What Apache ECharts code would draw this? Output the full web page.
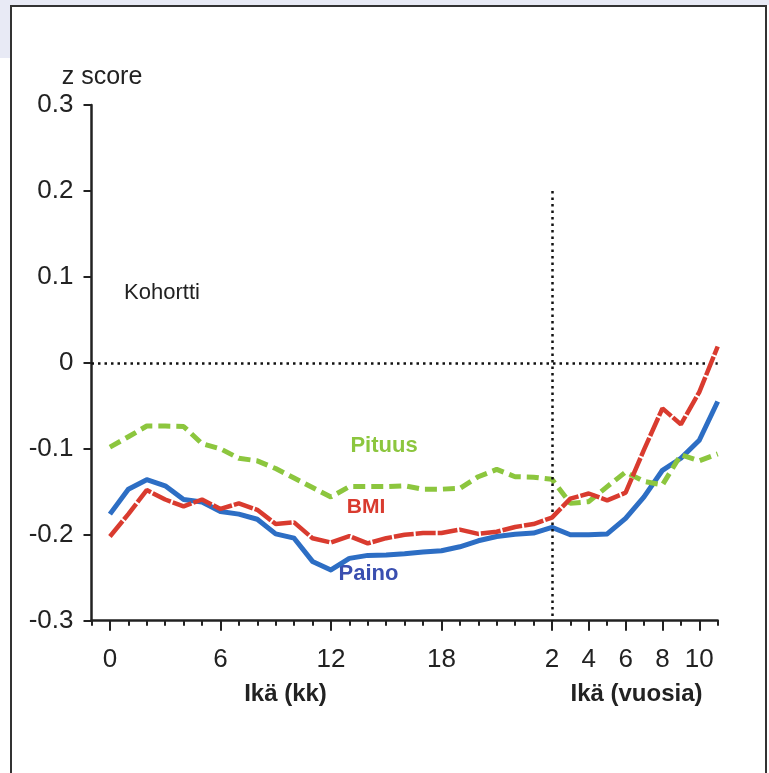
<!DOCTYPE html>
<html>
<head>
<meta charset="utf-8">
<script src="https://cdn.jsdelivr.net/npm/echarts@6/dist/echarts.min.js"></script>
<style>
html,body{margin:0;padding:0;background:#fff;width:769px;height:773px;overflow:hidden;}
#bgTop{position:absolute;left:0;top:0;width:769px;height:5px;background:#e8eaf5;}
#bgLeft{position:absolute;left:0;top:0;width:10px;height:58px;background:#e8eaf5;}
#frame{position:absolute;left:10px;top:5px;width:757px;height:820px;border:2px solid #333;box-sizing:border-box;background:#fff;}
#chart{position:absolute;left:0;top:0;width:769px;height:773px;}
</style>
</head>
<body>
<div id="bgTop"></div>
<div id="bgLeft"></div>
<div id="frame"></div>
<div id="chart"></div>
<script>
// x positions: months 0..24, then years 3..11 (index 25..33)
const ageIndex = [0,1,2,3,4,5,6,7,8,9,10,11,12,13,14,15,16,17,18,19,20,21,22,23,24,25,26,27,28,29,30,31,32,33];
const pituus = [-0.098,-0.086,-0.0735,-0.0735,-0.074,-0.094,-0.100,-0.111,-0.114,-0.123,-0.134,-0.145,-0.156,-0.144,-0.144,-0.144,-0.143,-0.147,-0.147,-0.146,-0.1325,-0.124,-0.1325,-0.133,-0.1355,-0.1635,-0.1615,-0.144,-0.127,-0.138,-0.142,-0.107,-0.114,-0.106];
const bmi = [-0.202,-0.176,-0.148,-0.159,-0.167,-0.159,-0.170,-0.1635,-0.171,-0.1875,-0.1856,-0.204,-0.209,-0.2015,-0.210,-0.204,-0.200,-0.198,-0.198,-0.194,-0.199,-0.1965,-0.191,-0.1875,-0.180,-0.158,-0.152,-0.160,-0.151,-0.101,-0.053,-0.0716,-0.034,0.019];
const paino = [-0.176,-0.147,-0.136,-0.143,-0.159,-0.162,-0.173,-0.176,-0.182,-0.199,-0.204,-0.231,-0.241,-0.2275,-0.224,-0.2235,-0.222,-0.220,-0.2186,-0.214,-0.207,-0.202,-0.1995,-0.198,-0.1915,-0.200,-0.200,-0.199,-0.181,-0.156,-0.125,-0.111,-0.090,-0.045];
const tickPositions = [0,6,12,18,24,26,28,30,32];
const tickLabels = ['0','6','12','18','2','4','6','8','10'];
const dividerX = 24;
const dividerTop = 0.2;
const zeroLine = 0;

const FONT = '"Liberation Sans", Arial, Helvetica, sans-serif';
const pairs = arr => ageIndex.map((x, i) => [x, arr[i]]);

const chart = echarts.init(document.getElementById('chart'), null, {renderer: 'canvas'});
const axisColor = '#222';
chart.setOption({
  animation: false,
  backgroundColor: 'transparent',
  grid: {left: 91.5, right: 51.3, top: 105, bottom: 152.3, containLabel: false},
  xAxis: [
    {
      type: 'value', min: -1, max: 33, interval: 1, position: 'bottom',
      axisLine: {show: true, onZero: false, lineStyle: {color: axisColor, width: 2.5}},
      axisTick: {show: true, length: 5, lineStyle: {color: axisColor, width: 2}},
      axisLabel: {show: false},
      splitLine: {show: false}
    },
    {
      type: 'value', min: -1, max: 33, position: 'bottom',
      axisLine: {show: false, onZero: false},
      axisTick: {show: true, customValues: tickPositions, length: 10, lineStyle: {color: axisColor, width: 2}},
      axisLabel: {
        show: true, customValues: tickPositions, margin: 26,
        fontSize: 26, color: axisColor, fontFamily: FONT,
        formatter: v => { const i = tickPositions.indexOf(Math.round(v)); return i >= 0 ? tickLabels[i] : ''; }
      },
      splitLine: {show: false}
    }
  ],
  yAxis: {
    type: 'value', min: -0.3, max: 0.3, interval: 0.1,
    axisLine: {show: true, onZero: false, lineStyle: {color: axisColor, width: 2.5}},
    axisTick: {show: true, length: 8, lineStyle: {color: axisColor, width: 2}},
    axisLabel: {
      fontSize: 26, color: axisColor, fontFamily: FONT, margin: 18, padding: [8, 0, 0, 0],
      formatter: v => { const r = Math.round(v * 10) / 10; return r === 0 ? '0' : String(r); }
    },
    splitLine: {show: false}
  },
  series: [
    {
      name: 'Paino', type: 'line', xAxisIndex: 0, data: pairs(paino),
      symbol: 'none', lineStyle: {color: '#2d6ec4', width: 5, join: 'round'}, z: 3,
      markLine: {
        silent: true, symbol: ['none', 'none'], label: {show: false},
        lineStyle: {color: '#111', width: 2.5, type: [2.5, 4]},
        data: [
          {yAxis: zeroLine},
          [{coord: [dividerX, dividerTop]}, {coord: [dividerX, -0.3]}]
        ]
      }
    },
    {
      name: 'Pituus', type: 'line', xAxisIndex: 0, data: pairs(pituus),
      symbol: 'none', lineStyle: {color: '#8cc63e', width: 5, type: [12, 6]}, z: 4
    },
    {
      name: 'BMI', type: 'line', xAxisIndex: 0, data: pairs(bmi),
      symbol: 'none', lineStyle: {color: '#d93b2f', width: 4.5, type: [20, 2]}, z: 5
    }
  ],
  graphic: [
    {type: 'text', x: 102, y: 77, style: {text: 'z score', font: '25px ' + FONT, fill: '#222', align: 'center', verticalAlign: 'middle'}},
    {type: 'text', x: 162, y: 293, style: {text: 'Kohortti', font: '22px ' + FONT, fill: '#222', align: 'center', verticalAlign: 'middle'}},
    {type: 'text', x: 384, y: 446, style: {text: 'Pituus', font: 'bold 22px ' + FONT, fill: '#8cc63e', align: 'center', verticalAlign: 'middle'}},
    {type: 'text', x: 366, y: 507, style: {text: 'BMI', font: 'bold 21px ' + FONT, fill: '#d93b2f', align: 'center', verticalAlign: 'middle'}},
    {type: 'text', x: 368.5, y: 574, style: {text: 'Paino', font: 'bold 22px ' + FONT, fill: '#3a4fb0', align: 'center', verticalAlign: 'middle'}},
    {type: 'text', x: 285.5, y: 694, style: {text: 'Ikä (kk)', font: 'bold 24px ' + FONT, fill: '#222', align: 'center', verticalAlign: 'middle'}},
    {type: 'text', x: 636.5, y: 694, style: {text: 'Ikä (vuosia)', font: 'bold 24px ' + FONT, fill: '#222', align: 'center', verticalAlign: 'middle'}}
  ]
});
</script>
</body>
</html>
